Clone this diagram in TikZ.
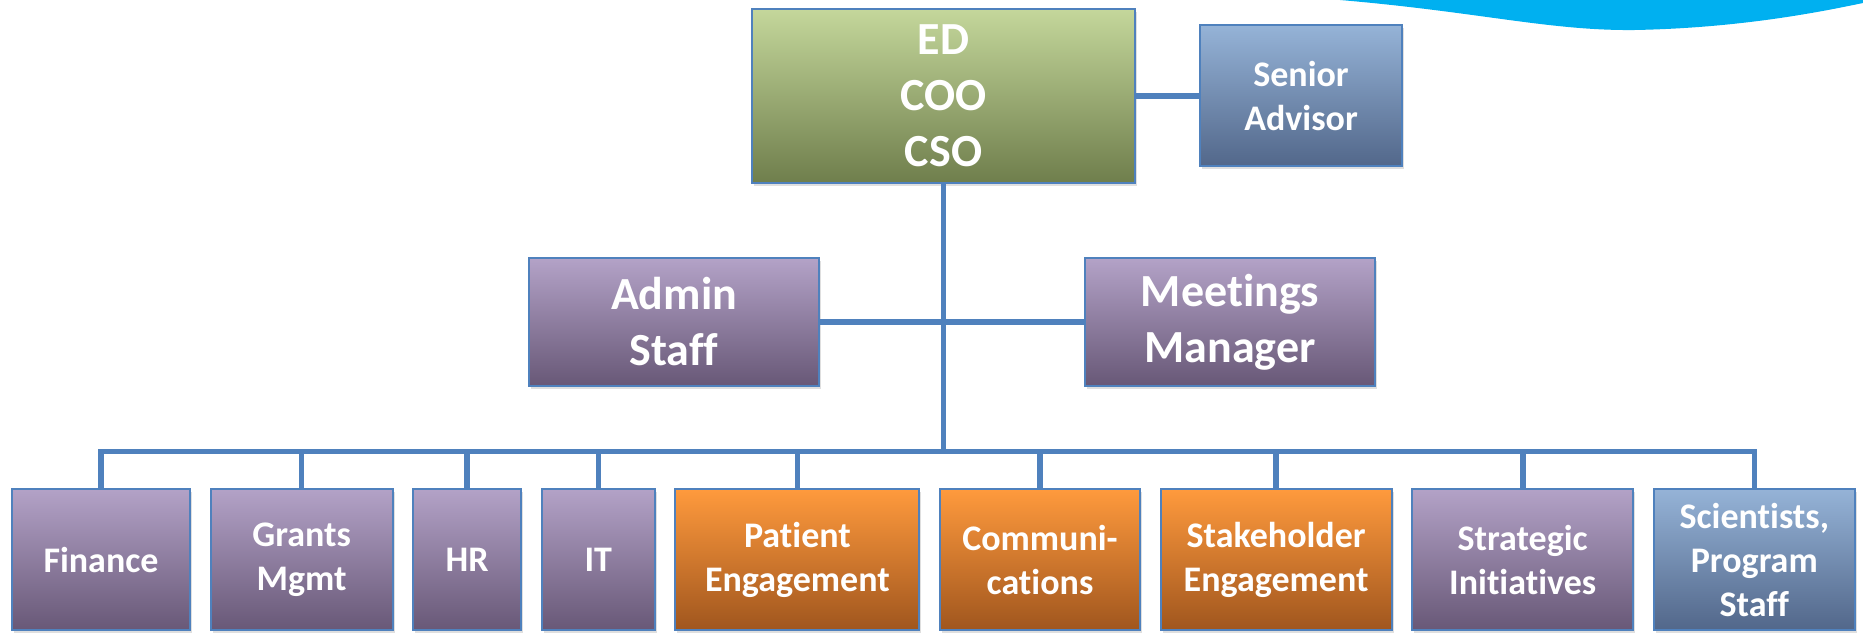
\documentclass[tikz,border=0pt]{standalone}
\usepackage{fontspec}
\setmainfont{Carlito}[Ligatures=NoCommon]
\usepackage{tikz}
\usetikzlibrary{positioning}
\usetikzlibrary{shadows}
\definecolor{linkblue}{HTML}{4F81BD}
\definecolor{swoosh}{HTML}{00B0F0}
\definecolor{greentop}{HTML}{C4D79B}
\definecolor{greenbot}{HTML}{6F7E4C}
\definecolor{purptop}{HTML}{B3A2C7}
\definecolor{purpbot}{HTML}{685877}
\definecolor{bluetop}{HTML}{95B3D7}
\definecolor{bluebot}{HTML}{52678A}
\definecolor{orantop}{HTML}{FF9A3D}
\definecolor{oranbot}{HTML}{A0561E}

\begin{document}
\begin{tikzpicture}[
                x = 0.5pt, y = 0.5pt, % one unit is one pixel of the chart
    node distance = 9.3pt, % gap between boxes of the bottom row
        line join = miter
        ]

        \tikzstyle{unit}=[
            draw = linkblue,
            line width = 1pt,
            align = center,
            text = white,
            inner sep = 2pt,
            font = \fontsize{18}{22}\selectfont\bfseries,
            minimum height = 70.5pt,
            drop shadow = {shadow xshift=1pt, shadow yshift=-1.5pt, opacity=0.25}
        ]
        \tikzstyle{big}=[font = \fontsize{23}{28}\selectfont\bfseries]
        \tikzstyle{lead}=[top color = greentop, bottom color = greenbot]
        \tikzstyle{staff}=[top color = purptop, bottom color = purpbot]
        \tikzstyle{outreach}=[top color = orantop, bottom color = oranbot]
        \tikzstyle{advice}=[top color = bluetop, bottom color = bluebot]
        \tikzstyle{link}=[draw = linkblue, line width = 2.8pt]

        \useasboundingbox (0,0) rectangle (1863,-636);

        % swoosh at the top edge
        \fill[swoosh] (1340,0) .. controls (1480,-12) and (1550,-31) .. (1635,-30)
            .. controls (1740,-28) and (1820,-12) .. (1863,-3) -- (1863,0) -- cycle;

        % top level
        \node[unit, lead, big, minimum width=191.5pt, minimum height=87pt] (ED) at (943.5,-96) {ED\\COO\\CSO};
        \node[unit, advice, minimum width=101pt] (sen) [right=31.5pt of ED] {Senior\\Advisor};

        % staff level
        \node[unit, staff, big, minimum width=145pt, minimum height=63.5pt] (admin) at (674,-322) {Admin\\Staff};
        \node[unit, staff, big, minimum width=145pt, minimum height=63.5pt] (meet) at (1230,-322) {Meetings\\Manager};

        % teams
        \node[unit, staff, minimum width=89pt] (fin) at (101,-559.5) {Finance};
        \node[unit, staff, minimum width=91pt] (grants) [right=of fin] {Grants\\Mgmt};
        \node[unit, staff, minimum width=54pt] (hr) [right=of grants] {HR};
        \node[unit, staff, minimum width=56.5pt] (it) [right=of hr] {IT};
        \node[unit, outreach, minimum width=122pt] (patient) [right=of it] {Patient\\Engagement};
        \node[unit, outreach, minimum width=100pt] (comm) [right=of patient] {Communi-\\cations};
        \node[unit, outreach, minimum width=115.5pt] (stake) [right=of comm] {Stakeholder\\Engagement};
        \node[unit, staff, minimum width=110.5pt] (strat) [right=of stake] {Strategic\\Initiatives};
        \node[unit, advice, minimum width=100.5pt] (sci) [right=of strat] {Scientists,\\Program\\Staff};

        % connectors
        \coordinate (bus) at (943.5,-451.5);
        \draw[link] (ED) -- (sen);
        \draw[link] (ED) -- (bus);
        \draw[link] (admin) -- (meet);
        \draw[link] (fin.north) |- (bus) -| (sci.north);
        \foreach \n in {grants, hr, it, patient, comm, stake, strat}
            \draw[link] (\n.north) -- (\n.north |- bus);

\end{tikzpicture}
\end{document}
